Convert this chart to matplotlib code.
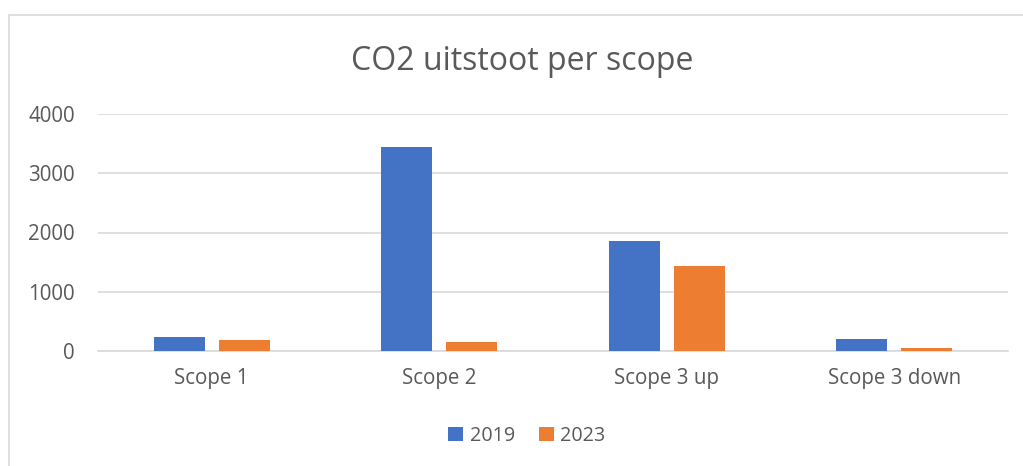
import numpy as np
import matplotlib.pyplot as plt
from matplotlib.patches import Rectangle

categories = ['Scope 1', 'Scope 2', 'Scope 3 up', 'Scope 3 down']
values_2019 = [236, 3443, 1857, 200]
values_2023 = [186, 150, 1435, 50]
series_labels = ['2019', '2023']
y_ticks = [0, 1000, 2000, 3000, 4000]

plt.rcParams['font.family'] = ['Open Sans', 'DejaVu Sans']
text_color = '#595959'
blue = '#4472c4'
orange = '#ed7d31'

W, H = 1023, 466
fig = plt.figure(figsize=(W / 100, H / 100), dpi=100, facecolor='white')

# outer chart border (cropped on right and bottom)
fig.patches.append(Rectangle((9 / W, -0.1), 1.2, (H - 15) / H + 0.1,
                             transform=fig.transFigure, fill=False,
                             edgecolor='#d9d9d9', linewidth=1.2))

ax = fig.add_axes([98 / W, (H - 351) / H, 910 / W, 237 / H])
x = np.arange(len(categories))
bw = 0.224
off = 32.5 / 227.5
ax.bar(x - off, values_2019, bw, color=blue, label=series_labels[0], zorder=3)
ax.bar(x + off, values_2023, bw, color=orange, label=series_labels[1], zorder=3)

ax.set_xlim(-0.5, len(categories) - 0.5)
ax.set_ylim(0, 4000)
ax.set_yticks(y_ticks)
ax.set_yticklabels([str(v) for v in y_ticks])
ax.set_xticks(x)
ax.set_xticklabels(categories)
ax.tick_params(axis='both', length=0, colors=text_color, labelsize=14.8)
ax.tick_params(axis='y', pad=16.5)
ax.tick_params(axis='x', pad=12)
ax.grid(axis='y', color='#d9d9d9', linewidth=1.2, zorder=0)
for s in ['top', 'right', 'left']:
    ax.spines[s].set_visible(False)
ax.spines['bottom'].set_color('#d9d9d9')
ax.spines['bottom'].set_linewidth(1.2)

fig.text(522 / W, 1 - 62 / H, 'CO2 uitstoot per scope', ha='center', va='center',
         fontsize=23, color=text_color)

leg = fig.legend(loc='center', bbox_to_anchor=(527 / W, 1 - 436 / H), ncol=2,
                 frameon=False, fontsize=14.2, handlelength=0.75, handleheight=0.75,
                 handletextpad=0.35, columnspacing=1.2)
for t in leg.get_texts():
    t.set_color(text_color)

fig.savefig('out.png', dpi=100, facecolor='white')
